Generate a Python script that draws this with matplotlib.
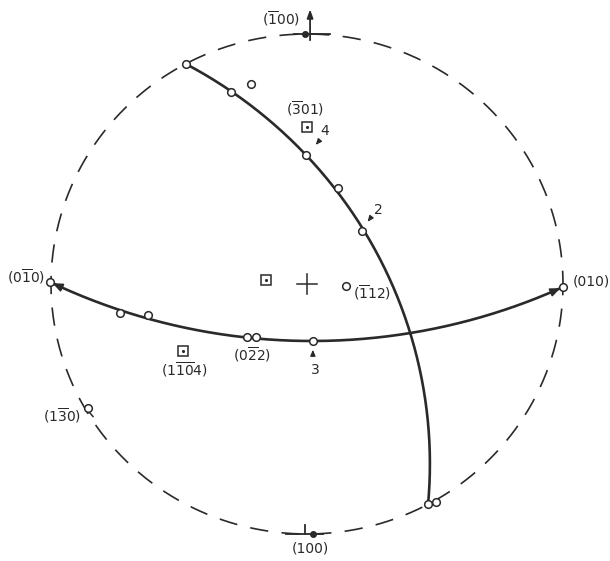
import numpy as np
import matplotlib
matplotlib.use('Agg')
import matplotlib.pyplot as plt

plt.rcParams['mathtext.fontset'] = 'dejavusans'
plt.rcParams['font.family'] = ['DejaVu Sans']

# ---- data (stereographic coordinates, unit primitive circle) ----
arc1_pts = [(-0.473, 0.880), (-0.297, 0.768), (-0.004, 0.516), (0.121, 0.384), (0.215, 0.212)]
arc1_end = (0.473, -0.880)
arc2_pts = [(-1.004, 0.008), (-0.730, -0.116), (-0.621, -0.124), (-0.234, -0.212),
            (-0.199, -0.212), (0.023, -0.228)]
arc2_end = (1.000, -0.012)
extra_circles = [(-0.219, 0.800), (0.152, -0.008), (0.504, -0.872), (-0.855, -0.496)]
squares = [(0.000, 0.628), (-0.160, 0.016), (-0.484, -0.268)]

labels = [r'$(\overline{1}00)$', r'$(\overline{3}01)$', '4', '2', r'$(0\overline{1}0)$',
          r'$(\overline{1}12)$', r'$(1\overline{10}4)$', r'$(0\overline{2}2)$', '3',
          r'$(1\overline{3}0)$', '(010)', '(100)']
label_pos = [(-0.102, 1.060), (-0.008, 0.700), (0.068, 0.612), (0.277, 0.296), (-1.098, 0.028),
             (0.254, -0.036), (-0.480, -0.344), (-0.215, -0.284), (0.031, -0.344),
             (-0.957, -0.528), (1.039, 0.008), (0.012, -1.056)]

INK = '#2a2a2a'

fig = plt.figure(figsize=(6.10, 5.61), dpi=100)
ax = fig.add_axes([0, 0, 1, 1])
ax.set_xlim(-307 / 256, 303 / 256)
ax.set_ylim(-277 / 250, 284 / 250)
ax.axis('off')

# primitive circle
t = np.linspace(0, 2 * np.pi, 600)
ax.plot(np.cos(t), np.sin(t), color=INK, lw=1.2, linestyle=(3, (11, 8)))


def circ3(p1, p2, p3):
    ax_, ay = p1; bx, by = p2; cx, cy = p3
    d = 2 * (ax_ * (by - cy) + bx * (cy - ay) + cx * (ay - by))
    ux = ((ax_**2 + ay**2) * (by - cy) + (bx**2 + by**2) * (cy - ay) + (cx**2 + cy**2) * (ay - by)) / d
    uy = ((ax_**2 + ay**2) * (cx - bx) + (bx**2 + by**2) * (ax_ - cx) + (cx**2 + cy**2) * (bx - ax_)) / d
    return ux, uy, np.hypot(ax_ - ux, ay - uy)


def arc(p_start, p_mid, p_end, n=400):
    ux, uy, r = circ3(p_start, p_mid, p_end)
    a0 = np.arctan2(p_start[1] - uy, p_start[0] - ux)
    a1 = np.arctan2(p_end[1] - uy, p_end[0] - ux)
    am = np.arctan2(p_mid[1] - uy, p_mid[0] - ux)

    def between(a, b, m):
        return (m - a) % (2 * np.pi) < (b - a) % (2 * np.pi)
    if between(a0, a1, am):
        a1 = a0 + (a1 - a0) % (2 * np.pi)
    else:
        a1 = a0 - (a0 - a1) % (2 * np.pi)
    a = np.linspace(a0, a1, n)
    return ux + r * np.cos(a), uy + r * np.sin(a)


x1, y1 = arc(arc1_pts[0], arc1_pts[2], arc1_end)
ax.plot(x1, y1, color=INK, lw=1.9, solid_capstyle='round')
x2, y2 = arc(arc2_pts[0], arc2_pts[-1], arc2_end)
ax.plot(x2, y2, color=INK, lw=1.9, solid_capstyle='round')

# arrowheads at the ends of arc 2
for (xa, ya), (xb, yb) in [((x2[8], y2[8]), (x2[0], y2[0])), ((x2[-9], y2[-9]), (x2[-1], y2[-1]))]:
    ax.annotate('', xy=(xb, yb), xytext=(xa, ya),
                arrowprops=dict(arrowstyle='-|>,head_length=0.6,head_width=0.25', color=INK, lw=1.2))

# points
circ_pts = arc1_pts + [arc1_end] + arc2_pts + [arc2_end] + extra_circles
cx_, cy_ = zip(*circ_pts)
ax.plot(cx_, cy_, 'o', ms=5.5, mfc='white', mec=INK, mew=1.1, zorder=5)
sx, sy = zip(*squares)
ax.plot(sx, sy, 's', ms=6.5, mfc='white', mec=INK, mew=1.1, zorder=5)
ax.plot(sx, sy, '.', ms=2.5, color=INK, zorder=6)
# tail on (1-30) marker
ax.plot([-0.853, -0.836], [-0.510, -0.530], color=INK, lw=1.1)

# centre cross
ax.plot([-0.04, 0.04], [0, 0], color=INK, lw=1.1)
ax.plot([0, 0], [-0.04, 0.04], color=INK, lw=1.1)

# top pole marker (-100)
ax.plot([-0.051, 0.090], [1.0, 1.0], color=INK, lw=1.3)
ax.plot([-0.008], [1.0], 'o', ms=4, color=INK)
ax.annotate('', xy=(0.012, 1.11), xytext=(0.012, 0.964),
            arrowprops=dict(arrowstyle='-|>,head_length=0.5,head_width=0.18', color=INK, lw=1.3))
# bottom pole marker (100)
ax.plot([-0.082, 0.0625], [-1.0, -1.0], color=INK, lw=1.3)
ax.plot([-0.008, -0.008], [-1.0, -0.964], color=INK, lw=1.3)
ax.plot([0.023], [-1.0], 'o', ms=4, color=INK)

# small pointer arrows
for (xa, ya), (xb, yb) in [((0.047, 0.572), (0.027, 0.548)), ((0.254, 0.272), (0.230, 0.240)),
                           ((0.023, -0.300), (0.023, -0.252))]:
    ax.annotate('', xy=(xb, yb), xytext=(xa, ya),
                arrowprops=dict(arrowstyle='-|>,head_length=0.35,head_width=0.15', color=INK, lw=0.9))

for s, (lx, ly) in zip(labels, label_pos):
    ha = 'left' if s == '(010)' else 'center'
    ax.text(lx, ly, s, fontsize=10, color=INK, ha=ha, va='center', zorder=7)

fig.savefig('out.png', dpi=100, facecolor='white')
